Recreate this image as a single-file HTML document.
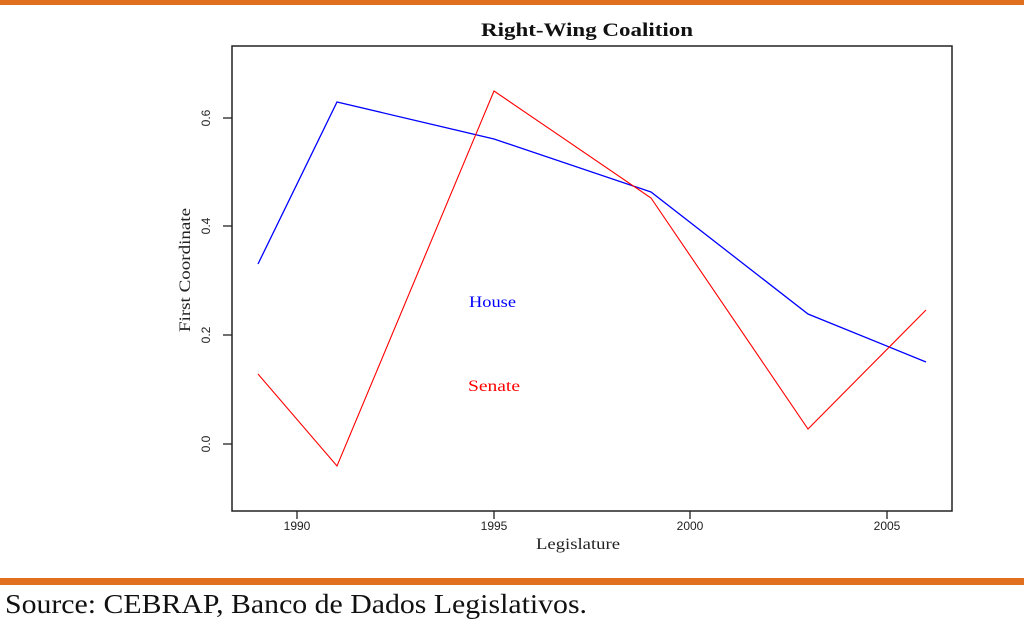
<!DOCTYPE html>
<html><head><meta charset="utf-8"><style>
html,body{margin:0;padding:0;background:#fff;width:1024px;height:620px;overflow:hidden}
</style></head><body>
<svg width="1024" height="620" xmlns="http://www.w3.org/2000/svg">
<rect x="0" y="0" width="1024" height="5" fill="#e07020"/>
<rect x="0" y="578" width="1024" height="7" fill="#e07020"/>
<text x="481" y="36" textLength="212" lengthAdjust="spacingAndGlyphs" font-family="Liberation Serif, serif" font-weight="bold" font-size="19" fill="#111">Right-Wing Coalition</text>
<rect x="232" y="46" width="720" height="465" fill="none" stroke="#222" stroke-width="1.5"/>
<g stroke="#222" stroke-width="1.3">
<line x1="223" y1="118" x2="232" y2="118"/><line x1="223" y1="226" x2="232" y2="226"/>
<line x1="223" y1="335" x2="232" y2="335"/><line x1="223" y1="444" x2="232" y2="444"/>
<line x1="297" y1="511" x2="297" y2="519"/><line x1="494" y1="511" x2="494" y2="519"/>
<line x1="690" y1="511" x2="690" y2="519"/><line x1="887" y1="511" x2="887" y2="519"/>
</g>
<g font-family="Liberation Sans, sans-serif" font-size="12" fill="#222" text-anchor="middle">
<text transform="translate(210,118) rotate(-90)">0.6</text>
<text transform="translate(210,226) rotate(-90)">0.4</text>
<text transform="translate(210,335) rotate(-90)">0.2</text>
<text transform="translate(210,444) rotate(-90)">0.0</text>
<text x="297" y="530">1990</text><text x="494" y="530">1995</text>
<text x="690" y="530">2000</text><text x="887" y="530">2005</text>
</g>
<text x="536" y="549" textLength="84" lengthAdjust="spacingAndGlyphs" font-family="Liberation Serif, serif" font-size="16" fill="#222">Legislature</text>
<text transform="translate(190,332) rotate(-90)" textLength="124" lengthAdjust="spacingAndGlyphs" font-family="Liberation Serif, serif" font-size="16" fill="#222">First Coordinate</text>
<polyline fill="none" stroke="#0000ff" stroke-width="1.3" points="258,264 337,102 494,139 651,192 808,314 926,362"/>
<polyline fill="none" stroke="#ff0000" stroke-width="1.1" points="258,374 337,466 494,91 651,198 808,429 926,310"/>
<text x="469" y="307" textLength="47" lengthAdjust="spacingAndGlyphs" font-family="Liberation Serif, serif" font-size="16" fill="#0000ff">House</text>
<text x="468" y="391" textLength="52" lengthAdjust="spacingAndGlyphs" font-family="Liberation Serif, serif" font-size="16" fill="#ff0000">Senate</text>
<text x="5" y="613" textLength="582" lengthAdjust="spacingAndGlyphs" font-family="Liberation Serif, serif" font-size="27" fill="#111">Source: CEBRAP, Banco de Dados Legislativos.</text>
</svg>
</body></html>
